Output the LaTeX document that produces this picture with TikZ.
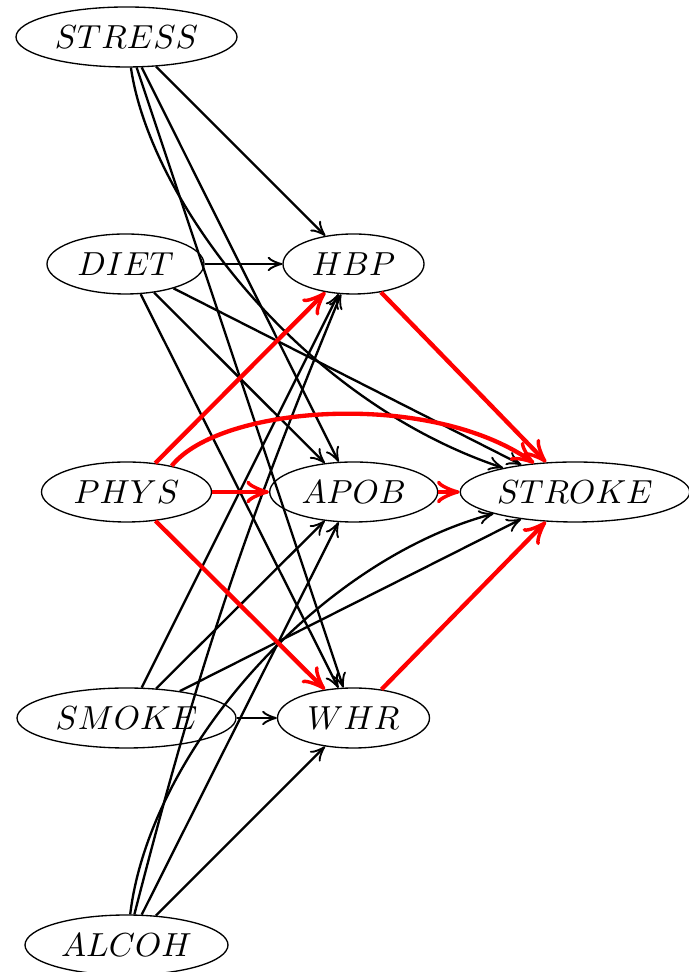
\documentclass[tikz,border=0pt]{standalone}
\usepackage{tikz}
\usetikzlibrary{shapes.geometric, arrows.meta}

\begin{document}
\begin{tikzpicture}[x=0.3pt, y=0.3pt,
    >={Classical TikZ Rightarrow[length=1.6pt 4, width=1.4pt 4.2]},
    var/.style={ellipse, draw=black, thin, inner sep=1pt, minimum height=18pt},
    causal/.style={->, line width=0.7pt, draw=black},
    redpath/.style={->, line width=1.3pt, draw=red}]
    \useasboundingbox (0,0) rectangle (688,972);

    % Exposures
    \node (stress) [var, minimum width=66.3pt] at (126.5,935) {$STRESS$};
    \node (diet) [var, minimum width=47.1pt] at (125.5,708) {$DIET$};
    \node (phys) [var, minimum width=51pt] at (126.5,480) {$PHYS$};
    \node (smoke) [var, minimum width=65.7pt] at (126.5,254) {$SMOKE$};
    \node (alcoh) [var, minimum width=60.9pt] at (126.5,27) {$ALCOH$};

    % Mediators
    \node (hbp) [var, minimum width=42.3pt] at (353.5,708) {$HBP$};
    \node (apob) [var, minimum width=50.4pt] at (353.7,480) {$APOB$};
    \node (whr) [var, minimum width=45.6pt] at (353.5,254) {$WHR$};

    % Outcome
    \node (stroke) [var, minimum width=67.8pt] at (575,480) {$STROKE$};

    % STRESS
    \draw[causal] (stress) -- (hbp);
    \draw[causal] (stress) -- (apob);
    \draw[causal] (stress) -- (whr);
    \draw[causal] (stress) .. controls (150,772) and (300,572) .. (stroke);

    % DIET
    \draw[causal] (diet) -- (hbp);
    \draw[causal] (diet) -- (apob);
    \draw[causal] (diet) -- (whr);
    \draw[causal] (diet) -- (stroke);

    % SMOKE
    \draw[causal] (smoke) -- (hbp);
    \draw[causal] (smoke) -- (apob);
    \draw[causal] (smoke) -- (whr);
    \draw[causal] (smoke) -- (stroke);

    % ALCOH
    \draw[causal] (alcoh) to[bend left=4] (hbp);
    \draw[causal] (alcoh) -- (apob);
    \draw[causal] (alcoh) -- (whr);
    \draw[causal] (alcoh) .. controls (150,222) and (320,412) .. (stroke);

    % PHYS paths in red
    \draw[redpath] (phys) -- (hbp);
    \draw[redpath] (phys) -- (apob);
    \draw[redpath] (phys) -- (whr);
    \draw[redpath] (phys.30) .. controls (220,567) and (430,582) .. (stroke);
    \draw[redpath] (hbp) -- (stroke);
    \draw[redpath] (apob) -- (stroke);
    \draw[redpath] (whr) -- (stroke);
\end{tikzpicture}
\end{document}
